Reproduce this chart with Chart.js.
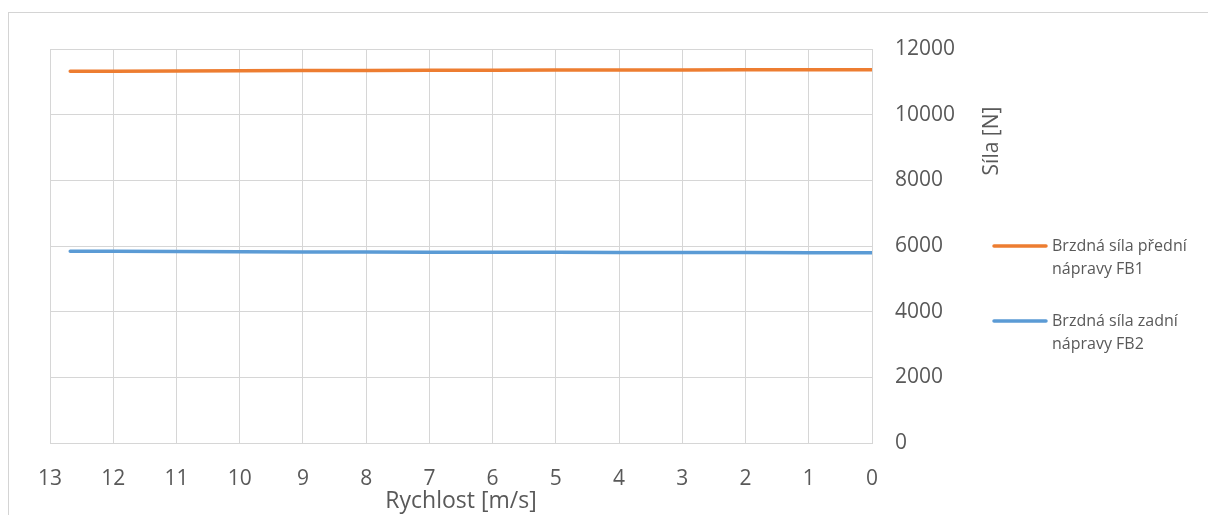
<!DOCTYPE html>
<html>
<head>
<meta charset="utf-8">
<script src="https://cdn.jsdelivr.net/npm/chart.js@4.4.1/dist/chart.umd.min.js"></script>
<style>
  html, body { margin: 0; padding: 0; background: #fff; overflow: hidden; }
  .frame { position: absolute; left: 8px; top: 12px; width: 1400px; height: 700px;
           border: 1px solid #d4d4d4; }
  .wrap { position: absolute; left: 0; top: 0; width: 1208px; height: 515px; }
</style>
</head>
<body>
<div class="frame"></div>
<div class="wrap"><canvas id="chartForces" width="1208" height="515"></canvas></div>
<script>
// rychlost [m/s] a brzdné síly [N]
const speed = [12.68, 12, 11, 10, 9, 8, 7, 6, 5, 4, 3, 2, 1, 0];
const fb1 = [11320, 11325, 11332, 11338, 11343, 11348, 11352, 11356, 11359, 11362, 11364, 11366, 11368, 11370];
const fb2 = [5842, 5838, 5832, 5826, 5821, 5817, 5813, 5809, 5806, 5803, 5801, 5799, 5797, 5795];
const seriesNames = [["Brzdná síla přední", "nápravy FB1"], ["Brzdná síla zadní", "nápravy FB2"]];
const colors = ["#ED7D31", "#5B9BD5"];
const xTitle = "Rychlost [m/s]";
const yTitle = "Síla [N]";

Chart.defaults.font.family = "'Open Sans', sans-serif";
Chart.defaults.color = "#595959";

const toPoints = (ys) => speed.map((x, i) => ({ x, y: ys[i] }));

// legenda vpravo + svislý popis osy Y
const sideTextPlugin = {
  id: "sideText",
  afterDraw(chart) {
    const { ctx } = chart;
    ctx.save();
    ctx.fillStyle = "#595959";
    ctx.font = "21px 'Open Sans', sans-serif";
    ctx.textAlign = "center";
    ctx.textBaseline = "middle";
    ctx.translate(992, 141);
    ctx.rotate(-Math.PI / 2);
    ctx.fillText(yTitle, 0, 0);
    ctx.restore();

    ctx.save();
    ctx.font = "16px 'Open Sans', sans-serif";
    ctx.textBaseline = "middle";
    ctx.textAlign = "left";
    const tops = [246, 321];
    seriesNames.forEach((lines, i) => {
      const y = tops[i];
      ctx.strokeStyle = colors[i];
      ctx.lineWidth = 3.5;
      ctx.lineCap = "round";
      ctx.beginPath();
      ctx.moveTo(994, y);
      ctx.lineTo(1046, y);
      ctx.stroke();
      ctx.fillStyle = "#595959";
      lines.forEach((t, j) => ctx.fillText(t, 1052, y + j * 23));
    });
    ctx.restore();
  },
};

new Chart(document.getElementById("chartForces"), {
  type: "line",
  data: {
    datasets: [
      { label: seriesNames[0].join(" "), data: toPoints(fb1), borderColor: colors[0], backgroundColor: colors[0] },
      { label: seriesNames[1].join(" "), data: toPoints(fb2), borderColor: colors[1], backgroundColor: colors[1] },
    ],
  },
  options: {
    responsive: false,
    animation: false,
    layout: { padding: { left: 50, top: 49, right: 0, bottom: 0 } },
    elements: {
      point: { radius: 0, hoverRadius: 0 },
      line: { borderWidth: 3.5, borderCapStyle: "round", tension: 0 },
    },
    plugins: { legend: { display: false }, tooltip: { enabled: false } },
    scales: {
      x: {
        type: "linear",
        reverse: true,
        min: 0,
        max: 13,
        ticks: { stepSize: 1, padding: 23, font: { size: 21 }, maxRotation: 0 },
        grid: { color: "#d6d6d6", lineWidth: 1, drawTicks: false },
        border: { color: "#d6d6d6" },
        title: { display: true, text: xTitle, font: { size: 23 }, padding: { top: 0, bottom: 0 } },
        afterFit(scale) { scale.height = 72; },
      },
      y: {
        position: "right",
        min: 0,
        max: 12000,
        ticks: { stepSize: 2000, padding: 23, font: { size: 21 }, callback: (v) => String(v) },
        grid: { color: "#d6d6d6", lineWidth: 1, drawTicks: false },
        border: { color: "#d6d6d6" },
        afterFit(scale) { scale.width = 336; },
      },
    },
  },
  plugins: [sideTextPlugin],
});
</script>
</body>
</html>
